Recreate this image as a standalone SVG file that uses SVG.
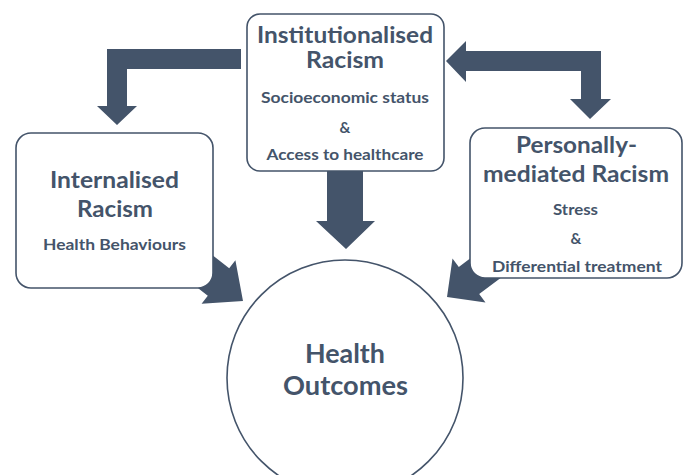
<svg xmlns="http://www.w3.org/2000/svg" width="689" height="475" viewBox="0 0 689 475">
<style>
.box{fill:#ffffff;stroke:#44546A;stroke-width:1.6}
.arr{fill:#44546A;stroke:none}
.t{font-family:Lato,"Open Sans",sans-serif;font-weight:700;fill:#44546A;text-anchor:middle}
.big{font-size:22px}
.hb{font-size:26px}
.sm{font-size:15px}
</style>
<rect width="689" height="475" fill="#ffffff"/>
<g id="connectors">
<polygon class="arr" points="241,49 107,49 107,106 97,106 117,125 137,106 127,106 127,69 241,69"/>
<polygon class="arr" points="446,61 466,41 466,51 601,51 601,99 611,99 590,119 570,99 581,99 581,71 466,71 466,82"/>
<polygon class="arr" points="327,171 363,171 363,221 375,221 346,249 316,221 327,221"/>
<polygon class="arr" points="160.3,258.8 181.7,231.2 229.2,268.2 235.4,260.3 243,301 201.6,303.7 207.8,295.8"/>
<polygon class="arr" points="506.8,230.9 458.8,266.9 452.5,258.5 447,297 485.5,302.5 479.2,294.1 527.2,258.1"/>
</g>
<g id="institutionalised">
<rect class="box" x="247" y="14" width="197" height="157" rx="13"/>
<text class="t big" x="345" y="43" textLength="176" lengthAdjust="spacingAndGlyphs">Institutionalised</text>
<text class="t big" x="345" y="68" textLength="78" lengthAdjust="spacingAndGlyphs">Racism</text>
<text class="t sm" x="345" y="103" textLength="168" lengthAdjust="spacingAndGlyphs">Socioeconomic status</text>
<text class="t sm" x="345" y="133">&amp;</text>
<text class="t sm" x="345" y="160" textLength="157" lengthAdjust="spacingAndGlyphs">Access to healthcare</text>
</g>
<g id="internalised">
<rect class="box" x="16" y="133" width="197" height="155" rx="15"/>
<text class="t big" x="114.5" y="188" textLength="129" lengthAdjust="spacingAndGlyphs">Internalised</text>
<text class="t big" x="115" y="217" textLength="76" lengthAdjust="spacingAndGlyphs">Racism</text>
<text class="t sm" x="114.5" y="250" textLength="143" lengthAdjust="spacingAndGlyphs">Health Behaviours</text>
</g>
<g id="personally">
<rect class="box" x="470" y="128" width="212" height="150" rx="15"/>
<text class="t big" x="576.5" y="153" textLength="121" lengthAdjust="spacingAndGlyphs">Personally-</text>
<text class="t big" x="576" y="182" textLength="186" lengthAdjust="spacingAndGlyphs">mediated Racism</text>
<text class="t sm" x="575.5" y="215" textLength="45" lengthAdjust="spacingAndGlyphs">Stress</text>
<text class="t sm" x="576" y="244">&amp;</text>
<text class="t sm" x="577" y="272" textLength="170" lengthAdjust="spacingAndGlyphs">Differential treatment</text>
</g>
<g id="outcomes">
<circle class="box" cx="345" cy="378" r="118"/>
<text class="t hb" x="345" y="363" textLength="80" lengthAdjust="spacingAndGlyphs">Health</text>
<text class="t hb" x="345.5" y="395" textLength="125" lengthAdjust="spacingAndGlyphs">Outcomes</text>
</g>
</svg>
